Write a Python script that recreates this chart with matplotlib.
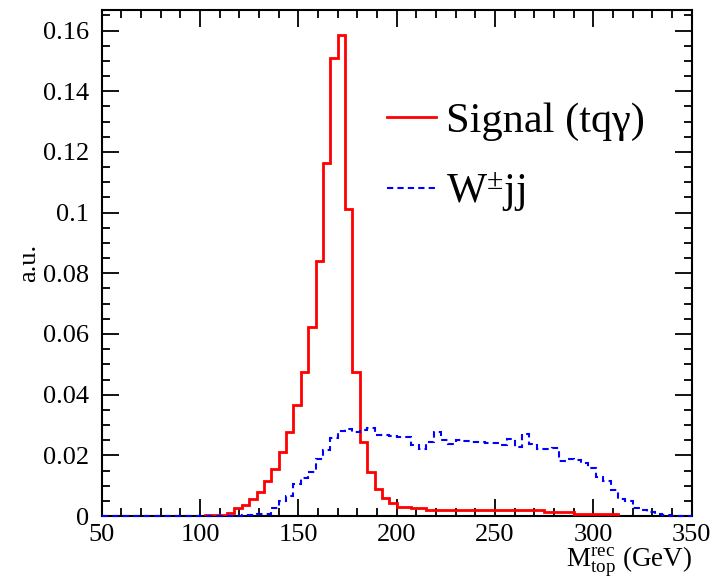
import matplotlib
matplotlib.use('Agg')
import matplotlib.pyplot as plt
from matplotlib.ticker import MultipleLocator, FuncFormatter
import numpy as np

plt.rcParams['font.family'] = 'Liberation Serif'
plt.rcParams['mathtext.fontset'] = 'custom'
plt.rcParams['mathtext.rm'] = 'Liberation Serif'
plt.rcParams['mathtext.it'] = 'Liberation Serif:italic'

# 80 bins of 3.75 GeV between 50 and 350
x_lo = 50
x_hi = 350
n_bins = 80

signal = [0, 0, 0, 0, 0, 0, 0, 0, 0, 0,
          0, 0, 0, 0, 0.0003, 0.0004, 0.0005, 0.0011, 0.0025, 0.0037,
          0.0056, 0.0079, 0.0115, 0.0156, 0.0211, 0.0276, 0.0367, 0.0474, 0.0624, 0.0840,
          0.1163, 0.1511, 0.1584, 0.1012, 0.0474, 0.0245, 0.0146, 0.0090, 0.0058, 0.0042,
          0.0031, 0.0031, 0.0025, 0.0025, 0.0020, 0.0020, 0.0020, 0.0020, 0.0020, 0.0020,
          0.0020, 0.0020, 0.0020, 0.0020, 0.0020, 0.0020, 0.0020, 0.0020, 0.0020, 0.0020,
          0.0012, 0.0012, 0.0012, 0.0012, 0.0006, 0.0006, 0.0006, 0.0006, 0.0006, 0.0006,
          0, 0, 0, 0, 0, 0, 0, 0, 0, 0]

wjj = [0, 0, 0, 0, 0, 0, 0, 0, 0, 0,
       0, 0, 0, 0, 0, 0, 0, 0, 0, 0.0004,
       0.0004, 0.0008, 0.0008, 0.0025, 0.0048, 0.0066, 0.0106, 0.0126, 0.0146, 0.0187,
       0.0218, 0.0256, 0.0281, 0.0287, 0.0277, 0.0284, 0.0289, 0.0267, 0.0267, 0.0263,
       0.0261, 0.0259, 0.0233, 0.0221, 0.0245, 0.0277, 0.0251, 0.0236, 0.0250, 0.0247,
       0.0245, 0.0243, 0.0242, 0.0242, 0.0234, 0.0255, 0.0229, 0.0270, 0.0237, 0.0222,
       0.0222, 0.0225, 0.0180, 0.0188, 0.0185, 0.0174, 0.0157, 0.0127, 0.0115, 0.0085,
       0.0057, 0.0051, 0.0025, 0.0021, 0.0013, 0.0007, 0.0002, 0, 0, 0]

edges = np.linspace(x_lo, x_hi, n_bins + 1)
signal = np.array(signal)
wjj = np.array(wjj)

fig = plt.figure(figsize=(7.17, 5.8), dpi=100)
ax = fig.add_axes([0.1418, 0.1103, 0.8229, 0.8725])

# red only where filled
nz = np.nonzero(signal)[0]
ax.stairs(signal[nz[0]:nz[-1] + 1], edges[nz[0]:nz[-1] + 2], color='#ff0000', lw=2.0,
          zorder=3, label='Signal (tq\u03b3)')
ax.stairs(wjj, edges, color='#0000ff', lw=1.5, ls=(0, (3, 2)), zorder=4, clip_on=False,
          label=r'W$^{\pm}$jj')

ax.set_xlim(x_lo, x_hi)
ax.set_ylim(0, 0.1668)

ax.xaxis.set_major_locator(MultipleLocator(50))
ax.xaxis.set_minor_locator(MultipleLocator(10))
ax.yaxis.set_major_locator(MultipleLocator(0.02))
ax.yaxis.set_minor_locator(MultipleLocator(0.005))
ax.yaxis.set_major_formatter(FuncFormatter(lambda v, p: '%g' % round(v, 4)))

ax.tick_params(which='both', direction='in', top=True, right=True, labelsize=19, width=1.3)
ax.tick_params(which='major', length=12)
ax.tick_params(which='minor', length=6)
ax.tick_params(axis='y', pad=9)
ax.tick_params(axis='x', pad=6)
for s in ax.spines.values():
    s.set_linewidth(1.5)

ax.set_ylabel('a.u.', fontsize=19, labelpad=2)
ax.set_xlabel(r'$\mathrm{M}^{\mathrm{rec}}_{\mathrm{top}}$ (GeV)', fontsize=19.5)
ax.xaxis.set_label_coords(1.0, -0.056)
ax.xaxis.label.set_horizontalalignment('right')

leg = ax.legend(loc='upper left', bbox_to_anchor=(0.448, 0.859), frameon=False, fontsize=30.5,
                handlelength=1.15, handletextpad=0.25, labelspacing=0.7, borderpad=0)

fig.savefig('out.png', dpi=100)
